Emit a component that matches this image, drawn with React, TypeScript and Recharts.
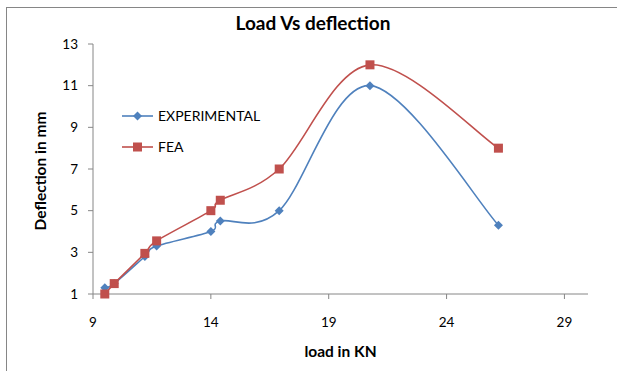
import React from "react";
import { LineChart, Line, XAxis, YAxis, Label } from "recharts";

const loads = [9.5, 9.9, 11.2, 11.7, 14, 14.4, 16.9, 20.75, 26.2];
const experimental = [1.3, 1.5, 2.8, 3.3, 4, 4.5, 5, 11, 4.3];
const fea = [1, 1.5, 2.95, 3.55, 5, 5.5, 7, 12, 8];
const xTicks = [9, 14, 19, 24, 29];
const yTicks = [1, 3, 5, 7, 9, 11, 13];

const data = loads.map((load, i) => ({
  load,
  experimental: experimental[i],
  fea: fea[i],
}));

const BLUE = "#4f81bd";
const RED = "#c0504d";
const AXIS = "#868686";
const FONT = "Lato, 'Open Sans', sans-serif";

// office-style smoothed line: bezier segments with catmull-rom control points
const smoothCurve = (context: any) => {
  let xs: number[] = [];
  let ys: number[] = [];
  return {
    areaStart() {},
    areaEnd() {},
    lineStart() {
      xs = [];
      ys = [];
    },
    point(x: number, y: number) {
      xs.push(+x);
      ys.push(+y);
    },
    lineEnd() {
      const n = xs.length;
      if (!n) return;
      context.moveTo(xs[0], ys[0]);
      for (let i = 0; i < n - 1; i++) {
        const a = Math.max(i - 1, 0);
        const d = Math.min(i + 2, n - 1);
        context.bezierCurveTo(
          xs[i] + (xs[i + 1] - xs[a]) / 6,
          ys[i] + (ys[i + 1] - ys[a]) / 6,
          xs[i + 1] - (xs[d] - xs[i]) / 6,
          ys[i + 1] - (ys[d] - ys[i]) / 6,
          xs[i + 1],
          ys[i + 1]
        );
      }
    },
  };
};

const Diamond = ({ cx, cy, r = 4.5 }: any) => (
  <path
    d={`M${cx},${cy - r}L${cx + r},${cy}L${cx},${cy + r}L${cx - r},${cy}Z`}
    fill={BLUE}
  />
);

const Square = ({ cx, cy, s = 9 }: any) => (
  <rect x={cx - s / 2} y={cy - s / 2} width={s} height={s} fill={RED} />
);

const renderDiamond = (p: any) => <Diamond key={`d-${p.index}`} cx={p.cx} cy={p.cy} />;
const renderSquare = (p: any) => <Square key={`s-${p.index}`} cx={p.cx} cy={p.cy} />;

const LegendBox = () => (
  <svg width={150} height={50} style={{ overflow: "visible", display: "block" }}>
    <line x1={0} y1={7} x2={31} y2={7} stroke={BLUE} strokeWidth={1.6} />
    <Diamond cx={15.5} cy={7} />
    <text x={36} y={7} dy="0.35em" fontSize={14} fontFamily={FONT} fill="#000">
      EXPERIMENTAL
    </text>
    <line x1={0} y1={38} x2={31} y2={38} stroke={RED} strokeWidth={1.6} />
    <Square cx={15.5} cy={38} />
    <text x={36} y={38} dy="0.35em" fontSize={14} fontFamily={FONT} fill="#000">
      FEA
    </text>
  </svg>
);

export default function App() {
  return (
    <div
      style={{
        position: "absolute",
        left: 0,
        top: 0,
        width: 617,
        height: 371,
        background: "#fff",
        fontFamily: FONT,
      }}
    >
      <div
        style={{
          position: "absolute",
          left: 6,
          top: 7,
          width: 611,
          height: 364,
          borderLeft: `1.5px solid ${AXIS}`,
          borderTop: `1.5px solid ${AXIS}`,
          boxSizing: "border-box",
        }}
      />
      <div
        style={{
          position: "absolute",
          left: 0,
          width: 626,
          top: 11,
          textAlign: "center",
          fontWeight: 700,
          fontSize: 19,
          lineHeight: "24px",
          color: "#000",
        }}
      >
        Load Vs deflection
      </div>
      <div style={{ position: "absolute", left: 0, top: 0 }}>
        <LineChart
          width={617}
          height={371}
          data={data}
          margin={{ top: 44, right: 29, bottom: 47, left: 33 }}
        >
          <XAxis
            dataKey="load"
            type="number"
            domain={[9, 30]}
            ticks={xTicks}
            allowDataOverflow
            height={30}
            stroke={AXIS}
            tickSize={5}
            tickMargin={18}
            tick={{ fill: "#000", fontSize: 13.5, fontFamily: FONT }}
          >
            <Label
              value="load in KN"
              position="bottom"
              offset={22}
              style={{ fontWeight: 700, fontSize: 15.5, fontFamily: FONT, fill: "#000" }}
            />
          </XAxis>
          <YAxis
            type="number"
            domain={[1, 13]}
            ticks={yTicks}
            width={60}
            stroke={AXIS}
            tickSize={5}
            tickMargin={10}
            tick={{ fill: "#000", fontSize: 13.5, fontFamily: FONT }}
          >
            <Label
              content={() => (
                <text
                  x={40}
                  y={171}
                  transform="rotate(-90 40 171)"
                  textAnchor="middle"
                  dominantBaseline="central"
                  fontWeight={700}
                  fontSize={15.5}
                  fontFamily={FONT}
                  fill="#000"
                >
                  Deflection in mm
                </text>
              )}
            />
          </YAxis>
          <Line
            dataKey="experimental"
            name="EXPERIMENTAL"
            type={smoothCurve as any}
            stroke={BLUE}
            strokeWidth={1.6}
            dot={renderDiamond}
            activeDot={false}
            isAnimationActive={false}
          />
          <Line
            dataKey="fea"
            name="FEA"
            type={smoothCurve as any}
            stroke={RED}
            strokeWidth={1.6}
            dot={renderSquare}
            activeDot={false}
            isAnimationActive={false}
          />
        </LineChart>
      </div>
      <div style={{ position: "absolute", left: 122, top: 109 }}>
        <LegendBox />
      </div>
    </div>
  );
}
